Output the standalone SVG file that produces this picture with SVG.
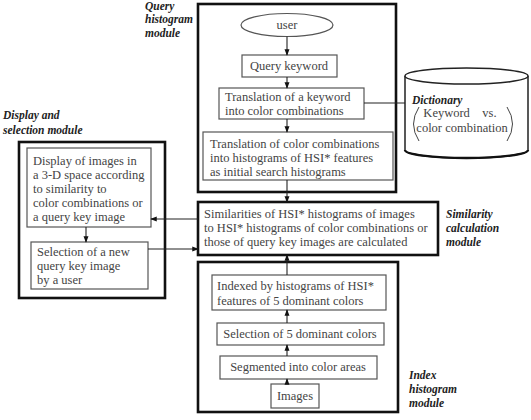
<svg xmlns="http://www.w3.org/2000/svg" width="531" height="420" viewBox="0 0 531 420">
<style>
.t{font-family:'Liberation Serif','DejaVu Serif',serif;font-size:12.5px;fill:#444}
.l{font-family:'Liberation Serif','DejaVu Serif',serif;font-size:11.5px;font-weight:bold;font-style:italic;fill:#222}
.b{fill:#fff;stroke:#555;stroke-width:1.2}
.m{fill:none;stroke:#111;stroke-width:2.6}
.c{fill:none;stroke:#222;stroke-width:1.1}
</style>
<defs>
<marker id="a" viewBox="0 0 8 8" refX="7" refY="4" markerWidth="6" markerHeight="6" orient="auto"><path d="M0,1 L8,4 L0,7 Z" fill="#111"/></marker>
</defs>
<rect width="531" height="420" fill="#fff"/>

<g id="query-module">
<rect class="m" x="198" y="4" width="198" height="188"/>
<text class="l" x="145" y="10">Query</text>
<text class="l" x="145" y="23">histogram</text>
<text class="l" x="145" y="37">module</text>
</g>
<g id="user">
<ellipse class="b" cx="287" cy="25" rx="46" ry="11.5"/>
<text class="t" x="287" y="29" text-anchor="middle">user</text>
</g>
<g id="query-keyword">
<rect class="b" x="242" y="55" width="95" height="22"/>
<text class="t" x="289" y="70" text-anchor="middle">Query keyword</text>
</g>
<g id="translation-keyword">
<rect class="b" x="219" y="88" width="145" height="31"/>
<text class="t" x="225" y="101">Translation of a keyword</text>
<text class="t" x="225" y="115">into color combinations</text>
</g>
<g id="translation-color">
<rect class="b" x="203" y="132" width="190" height="48"/>
<text class="t" x="210" y="148">Translation of color combinations</text>
<text class="t" x="210" y="162">into histograms of HSI* features</text>
<text class="t" x="210" y="176">as initial search histograms</text>
</g>
<g id="dictionary">
<path d="M405,76 L405,150 A61.5,8 0 0 0 528,150 L528,76" fill="#fff" stroke="#222" stroke-width="1.5"/>
<path d="M405,150 A61.5,8 0 0 0 528,150" fill="none" stroke="#111" stroke-width="2.4"/>
<ellipse cx="466.5" cy="76" rx="61.5" ry="8" fill="#fff" stroke="#222" stroke-width="1.5"/>
<text class="l" x="412" y="104">Dictionary</text>
<text class="t" x="460" y="117" text-anchor="middle" xml:space="preserve">Keyword    vs.</text>
<text class="t" x="462" y="132" text-anchor="middle">color combination</text>
<path d="M419,107 Q408,124 419,141" fill="none" stroke="#444" stroke-width="1"/>
<path d="M507,107 Q518,124 507,141" fill="none" stroke="#444" stroke-width="1"/>
</g>
<g id="similarity">
<rect class="m" x="198" y="202" width="240" height="53"/>
<text class="t" x="204" y="218">Similarities of HSI* histograms of images</text>
<text class="t" x="204" y="232">to HSI* histograms of color combinations or</text>
<text class="t" x="204" y="246">those of query key images are calculated</text>
<text class="l" x="446" y="218">Similarity</text>
<text class="l" x="446" y="232">calculation</text>
<text class="l" x="446" y="246">module</text>
</g>
<g id="index-module">
<rect class="m" x="198" y="262" width="200" height="150"/>
<text class="l" x="409" y="379">Index</text>
<text class="l" x="409" y="393">histogram</text>
<text class="l" x="409" y="407">module</text>
</g>
<g id="indexed">
<rect class="b" x="212" y="275" width="174" height="35"/>
<text class="t" x="217" y="290">Indexed by histograms of HSI*</text>
<text class="t" x="217" y="305">features of 5 dominant colors</text>
</g>
<g id="selection-dominant">
<rect class="b" x="217" y="323" width="167" height="22"/>
<text class="t" x="300" y="338" text-anchor="middle">Selection of 5 dominant colors</text>
</g>
<g id="segmented">
<rect class="b" x="220" y="356" width="157" height="23"/>
<text class="t" x="298" y="371" text-anchor="middle">Segmented into color areas</text>
</g>
<g id="images">
<rect class="b" x="271" y="384" width="48" height="24"/>
<text class="t" x="295" y="400" text-anchor="middle">Images</text>
</g>
<g id="display-module">
<rect class="m" x="19" y="142" width="146" height="156"/>
<text class="l" x="3" y="119">Display and</text>
<text class="l" x="3" y="134">selection module</text>
</g>
<g id="display-images">
<rect class="b" x="27" y="148" width="124" height="79"/>
<text class="t" x="33" y="165">Display of images in</text>
<text class="t" x="33" y="179">a 3-D space according</text>
<text class="t" x="33" y="193">to similarity to</text>
<text class="t" x="33" y="207">color combinations or</text>
<text class="t" x="33" y="221">a query key image</text>
</g>
<g id="selection-new">
<rect class="b" x="31" y="242" width="117" height="47"/>
<text class="t" x="37" y="256">Selection of a new</text>
<text class="t" x="37" y="270">query key image</text>
<text class="t" x="37" y="284">by a user</text>
</g>

<g id="connectors" class="c">
<line x1="287" y1="36.5" x2="287" y2="55" marker-end="url(#a)"/>
<line x1="287" y1="77" x2="287" y2="88" marker-end="url(#a)"/>
<line x1="287" y1="119" x2="287" y2="132" marker-end="url(#a)"/>
<line x1="364" y1="103" x2="405" y2="103"/>
<line x1="287" y1="180" x2="287" y2="202" marker-end="url(#a)"/>
<line x1="287" y1="275" x2="287" y2="255" marker-end="url(#a)"/>
<line x1="287" y1="323" x2="287" y2="310" marker-end="url(#a)"/>
<line x1="287" y1="356" x2="287" y2="345" marker-end="url(#a)"/>
<line x1="287" y1="384" x2="287" y2="379" marker-end="url(#a)"/>
<line x1="198" y1="219" x2="151" y2="219" marker-end="url(#a)"/>
<line x1="148" y1="249" x2="198" y2="249" marker-end="url(#a)"/>
<line x1="86" y1="227" x2="86" y2="242" marker-end="url(#a)"/>
</g>
</svg>
